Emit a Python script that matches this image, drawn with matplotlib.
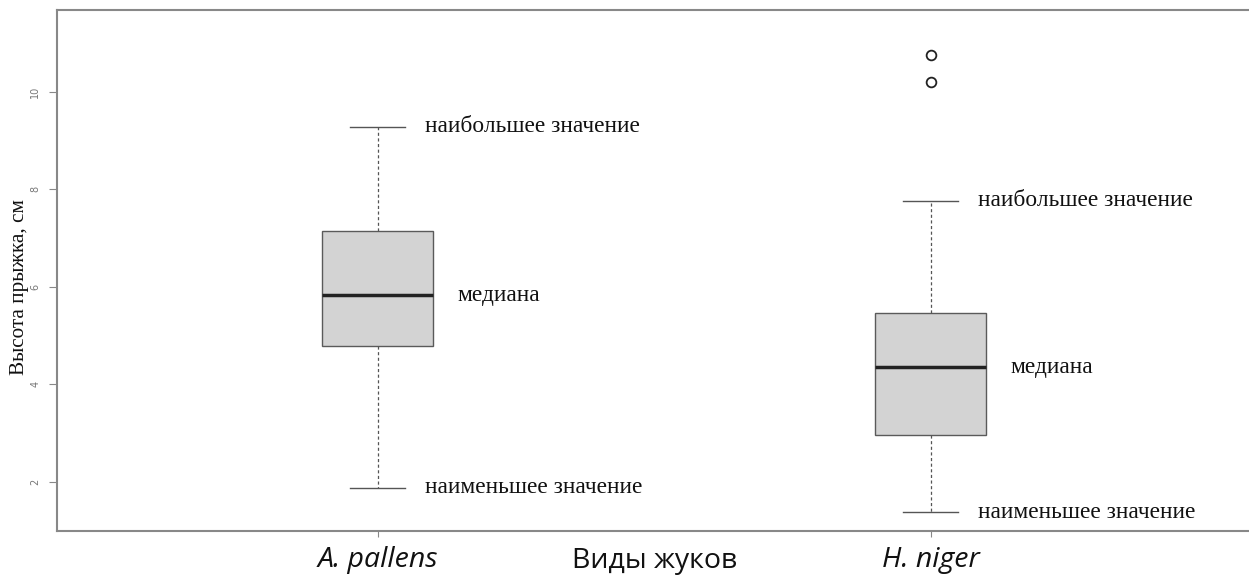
import matplotlib
matplotlib.use("Agg")
import matplotlib.pyplot as plt

# Values (jump height, cm)
species = ["A. pallens", "H. niger"]
q1 = [4.79, 2.97]
medians = [5.83, 4.35]
q3 = [7.15, 5.47]
whisker_low = [1.88, 1.37]
whisker_high = [9.28, 7.77]
outliers = [[], [10.20, 10.76]]
yticks = [2, 4, 6, 8, 10]

label_max = "наибольшее значение"
label_med = "медиана"
label_min = "наименьшее значение"
x_title = "Виды жуков"
y_title = "Высота прыжка, см"

stats = []
for i, name in enumerate(species):
    stats.append({
        "label": name,
        "q1": q1[i],
        "med": medians[i],
        "q3": q3[i],
        "whislo": whisker_low[i],
        "whishi": whisker_high[i],
        "fliers": outliers[i],
    })

fig = plt.figure(figsize=(12.49, 5.85), dpi=100)
ax = fig.add_axes([57 / 1249, 1 - 531 / 585, 1200 / 1249, 521 / 585])

positions = [1, 2]
ax.bxp(
    stats,
    positions=positions,
    widths=0.2,
    patch_artist=True,
    boxprops=dict(facecolor="#d3d3d3", edgecolor="#5a5a5a", linewidth=1.0),
    medianprops=dict(color="#222222", linewidth=2.5),
    whiskerprops=dict(color="#555555", linewidth=0.9, linestyle=(0, (2.5, 2))),
    capprops=dict(color="#555555", linewidth=1.0),
    capwidths=0.1,
    flierprops=dict(marker="o", markerfacecolor="white", markeredgecolor="#222222",
                    markersize=7, markeredgewidth=1.3),
)

ax.set_xlim(0.42, 2.59)
ax.set_ylim(0.99, 11.68)

# Annotations next to the boxes
serif = "Liberation Serif"
for i, p in enumerate(positions):
    ax.text(p + 0.085, whisker_high[i], label_max, fontsize=16.8, family=serif,
            va="center", ha="left", color="#111111")
    ax.text(p + 0.145, medians[i], label_med, fontsize=16.8, family=serif,
            va="center", ha="left", color="#111111")
    ax.text(p + 0.085, whisker_low[i], label_min, fontsize=16.8, family=serif,
            va="center", ha="left", color="#111111")

ax.set_yticks(yticks)
ax.set_yticklabels([str(t) for t in yticks], rotation=90, va="center",
                   fontsize=7, color="#777777")
ax.tick_params(axis="y", length=6, color="#888888", pad=6)

ax.set_xticks(positions)
ax.set_xticklabels(species, fontsize=20.5, family="Open Sans", style="italic",
                   color="#111111")
ax.tick_params(axis="x", length=4, color="#888888", pad=7)

ax.set_ylabel(y_title, fontsize=15.3, family=serif, color="#111111",
              va="center")
ax.yaxis.set_label_coords(-0.031, 0.468)
fig.text(655 / 1249, 1 - 568 / 585, x_title, fontsize=20.5, family="Open Sans",
         ha="center", va="baseline", color="#111111")

for side in ["left", "bottom", "top", "right"]:
    ax.spines[side].set_color("#888888")
    ax.spines[side].set_linewidth(1.5)

fig.savefig("out.png", dpi=100)
